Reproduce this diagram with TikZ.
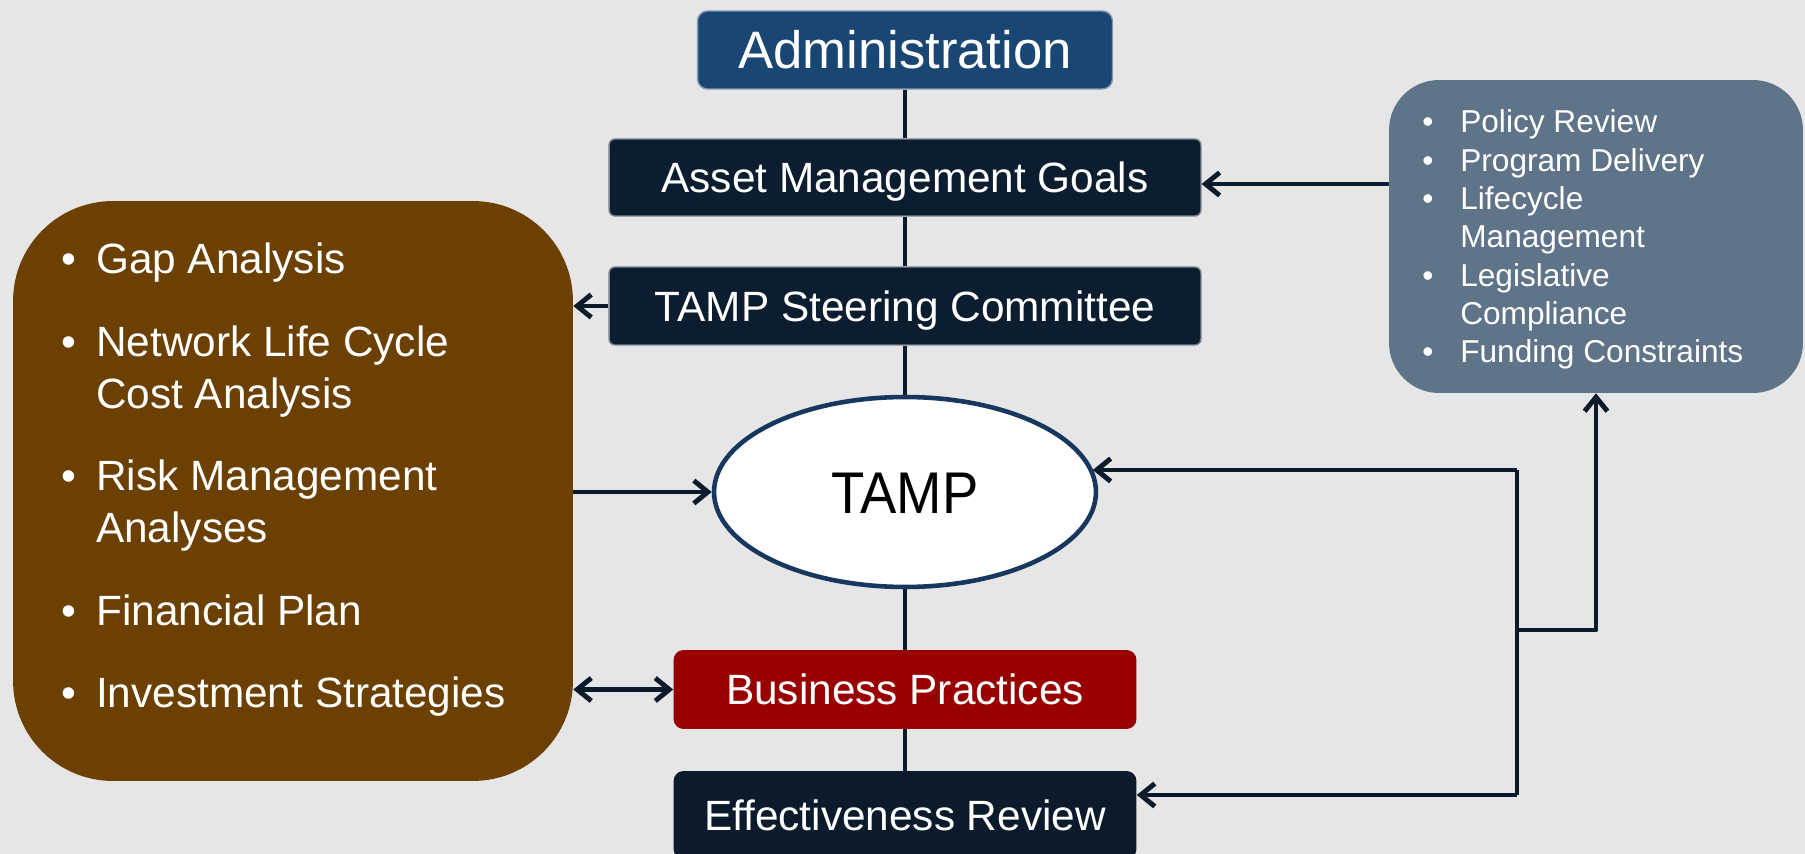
\documentclass[tikz,border=0pt]{standalone}
\usepackage{fontspec}
\setmainfont{Liberation Sans}
\usetikzlibrary{arrows.meta,shapes.geometric}
\definecolor{bgGray}{HTML}{E6E6E6}
\definecolor{adminBlue}{HTML}{1A4674}
\definecolor{navy}{HTML}{0D1D30}
\definecolor{lineNavy}{HTML}{0C1B2B}
\definecolor{bizRed}{HTML}{990000}
\definecolor{toolBrown}{HTML}{6B4000}
\definecolor{policyGray}{HTML}{5F7489}
\definecolor{tampRim}{HTML}{17375E}

\tikzset{
	box/.style={rectangle, rounded corners=0.2cm, text=white, inner sep=0pt,
		font=\fontsize{24.1}{29}\selectfont, text height=17.3pt, text depth=0pt},
	link/.style={draw=lineNavy, line width=2.8pt, line join=round},
	arr/.style={link, -{Straight Barb[length=8pt,width=13pt]}},
	twoarr/.style={link, {Straight Barb[length=8pt,width=13pt]}-{Straight Barb[length=8pt,width=13pt]}}
}

\begin{document}
\begin{tikzpicture}[x=0.02cm, y=-0.02cm]
	\fill[bgGray] (0,0) rectangle (1805,854);
	\useasboundingbox (0,0) rectangle (1805,854);
	\clip (0,0) rectangle (1805,854);

	% centre column
	\node[box, fill=adminBlue, draw=adminBlue!55!white, line width=0.8pt,
		minimum width=8.3cm, minimum height=1.56cm,
		font=\fontsize{30}{36}\selectfont, text height=21.5pt] (admin) at (905,50) {Administration};
	\node[box, fill=navy, draw=navy!55!white, line width=0.8pt, rounded corners=0.12cm,
		minimum width=11.84cm, minimum height=1.54cm] (goals) at (905,177.5) {Asset Management Goals};
	\node[box, fill=navy, draw=navy!55!white, line width=0.8pt, rounded corners=0.12cm,
		minimum width=11.84cm, minimum height=1.56cm] (steer) at (905,306) {TAMP Steering Committee};
	\node[ellipse, draw=tampRim, line width=2.6pt, fill=white, inner sep=0pt,
		minimum width=7.64cm, minimum height=3.8cm,
		font=\fontsize{31}{37}\selectfont, text height=24pt, text depth=0pt] (tamp) at (905,492) {\scalebox{1}[1.08]{TAMP}};
	\node[box, fill=bizRed, minimum width=9.26cm, minimum height=1.58cm] (bizprac) at (905,689.5) {Business Practices};
	\node[box, fill=lineNavy, minimum width=9.26cm, minimum height=1.76cm] (review) at (905,815) {Effectiveness Review};

	% side boxes
	\node[rectangle, fill=toolBrown, rounded corners=2cm, minimum width=11.2cm, minimum height=11.6cm] (tools) at (293,491) {};
	\node[anchor=base west, inner sep=0pt, text=white, font=\fontsize{24.1}{29.4}\selectfont] (toolslist) at (61,274) {%
		\begin{tabular}[t]{@{}l@{\hspace{11.4pt}}l@{}}
			\textbullet & Gap Analysis\\[17.6pt]
			\textbullet & Network Life Cycle\\
			 & Cost Analysis\\[17.6pt]
			\textbullet & Risk Management\\
			 & Analyses\\[17.6pt]
			\textbullet & Financial Plan\\[17.6pt]
			\textbullet & Investment Strategies
		\end{tabular}};
	\node[rectangle, fill=policyGray, rounded corners=1cm, minimum width=8.28cm, minimum height=6.26cm] (policy) at (1596,236.5) {};
	\node[anchor=base west, inner sep=0pt, text=white, font=\fontsize{18}{21.8}\selectfont] (policylist) at (1422,133) {%
		\begin{tabular}[t]{@{}l@{\hspace{15.3pt}}l@{}}
			\textbullet & Policy Review\\
			\textbullet & Program Delivery\\
			\textbullet & Lifecycle\\
			 & Management\\
			\textbullet & Legislative\\
			 & Compliance\\
			\textbullet & Funding Constraints
		\end{tabular}};

	% spine
	\draw[link] (admin) -- (goals);
	\draw[link] (goals) -- (steer);
	\draw[link] (steer) -- (tamp);
	\draw[link] (tamp) -- (bizprac);
	\draw[link] (bizprac) -- (review);

	% arrows
	\draw[arr] (policy.west |- 0,184) -- (goals.east |- 0,184);
	\draw[arr] (steer.west) -- (steer.west -| tools.east);
	\draw[arr] (tools.east |- tamp.west) -- (tamp.west);
	\draw[twoarr] (tools.east |- bizprac.west) -- (bizprac.west);

	% feedback loop
	\coordinate (fbtop) at (1517,470);
	\coordinate (fbmid) at (1517,630);
	\coordinate (fbbot) at (1517,795);
	\draw[link] (fbtop) -- (fbbot);
	\draw[arr] (fbtop) -- (fbtop -| tamp.7);
	\draw[arr] (fbbot) -- (fbbot -| review.east);
	\draw[arr] (fbmid) -| (policy.south);
\end{tikzpicture}
\end{document}
